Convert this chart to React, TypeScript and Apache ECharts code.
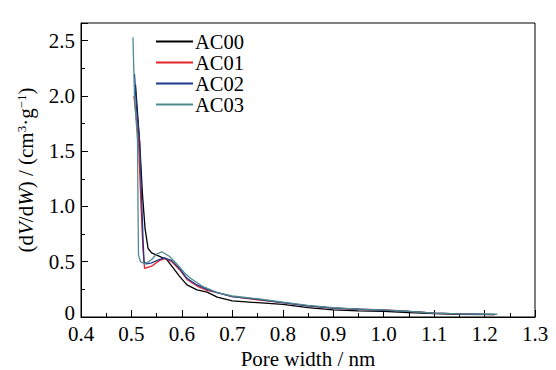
import React, { useEffect, useRef } from "react";
import * as echarts from "echarts";

const seriesNames = ["AC00", "AC01", "AC02", "AC03"];
const seriesColors = ["#000000", "#e3222a", "#1d3a8e", "#4d8b8f"];

const ac00: [number, number][] = [
  [0.508, 2.1], [0.516, 1.6], [0.522, 1.1], [0.527, 0.8], [0.533, 0.62], [0.54, 0.58],
  [0.55, 0.56], [0.57, 0.52], [0.58, 0.46], [0.595, 0.37], [0.61, 0.29], [0.63, 0.245],
  [0.65, 0.225], [0.67, 0.18], [0.7, 0.145], [0.75, 0.13], [0.8, 0.115], [0.85, 0.085],
  [0.9, 0.065], [0.95, 0.055], [1.0, 0.05], [1.05, 0.04], [1.1, 0.03], [1.15, 0.025], [1.22, 0.022],
];
const ac01: [number, number][] = [
  [0.505, 2.0], [0.514, 1.6], [0.519, 1.0], [0.523, 0.6], [0.526, 0.44], [0.54, 0.46],
  [0.555, 0.51], [0.567, 0.53], [0.58, 0.5], [0.595, 0.43], [0.61, 0.34], [0.63, 0.28],
  [0.65, 0.24], [0.67, 0.22], [0.7, 0.185], [0.75, 0.155], [0.8, 0.13], [0.85, 0.1],
  [0.9, 0.08], [0.95, 0.07], [1.0, 0.065], [1.02, 0.06], [1.05, 0.05], [1.1, 0.035],
  [1.15, 0.028], [1.22, 0.022],
];
const ac02: [number, number][] = [
  [0.506, 2.2], [0.51, 1.9], [0.516, 1.6], [0.52, 1.1], [0.523, 0.7], [0.525, 0.5],
  [0.53, 0.48], [0.54, 0.49], [0.555, 0.52], [0.565, 0.535], [0.58, 0.51], [0.595, 0.44],
  [0.61, 0.35], [0.63, 0.29], [0.65, 0.25], [0.67, 0.22], [0.7, 0.185], [0.75, 0.16],
  [0.8, 0.13], [0.85, 0.1], [0.9, 0.08], [0.95, 0.07], [1.0, 0.06], [1.05, 0.05],
  [1.1, 0.035], [1.15, 0.028], [1.22, 0.023],
];
const ac03: [number, number][] = [
  [0.503, 2.53], [0.506, 2.0], [0.512, 1.6], [0.513, 1.0], [0.514, 0.56], [0.518, 0.5],
  [0.527, 0.48], [0.54, 0.52], [0.55, 0.57], [0.56, 0.59], [0.575, 0.55], [0.59, 0.48],
  [0.605, 0.4], [0.617, 0.35], [0.64, 0.28], [0.67, 0.22], [0.7, 0.19], [0.75, 0.165],
  [0.8, 0.135], [0.85, 0.105], [0.9, 0.085], [0.95, 0.072], [1.0, 0.065], [1.05, 0.05],
  [1.1, 0.035], [1.15, 0.028], [1.225, 0.025],
];
const seriesData = [ac00, ac01, ac02, ac03];

const xMin = 0.4;
const xMax = 1.3;
const xStep = 0.1;
const yMin = 0;
const yMax = 2.66;
const yStep = 0.5;

const FONT = "Liberation Serif";

export default function App() {
  const ref = useRef<HTMLDivElement>(null);
  useEffect(() => {
    if (!ref.current) return;
    const chart = echarts.init(ref.current, undefined, { renderer: "svg" });
    chart.setOption({
      animation: false,
      backgroundColor: "#ffffff",
      textStyle: { fontFamily: FONT },
      grid: {
        left: 81,
        right: 21,
        top: 23,
        bottom: 53,
        outerBoundsMode: "none",
        containLabel: false,
        show: true,
        borderColor: "#000",
        borderWidth: 1,
        backgroundColor: "transparent",
      },
      legend: {
        left: 156,
        top: 31,
        orient: "vertical",
        padding: 0,
        itemGap: 0,
        itemWidth: 37,
        itemHeight: 2,
        icon: "rect",
        data: seriesNames,
        textStyle: {
          fontFamily: FONT,
          fontSize: 20.5,
          lineHeight: 20.4,
          color: "#000",
          padding: [0, 0, 0, -3],
        },
      },
      xAxis: {
        type: "value",
        min: xMin,
        max: xMax,
        interval: xStep,
        name: "Pore width / nm",
        nameLocation: "middle",
        nameGap: 29,
        nameTextStyle: { fontFamily: FONT, fontSize: 21, color: "#000" },
        axisLine: { lineStyle: { color: "#000", width: 1 } },
        axisTick: { inside: true, length: 7, lineStyle: { color: "#000" } },
        minorTick: { show: true, splitNumber: 2, length: 4, lineStyle: { color: "#000" } },
        splitLine: { show: false },
        axisLabel: {
          fontFamily: FONT,
          fontSize: 21,
          color: "#000",
          margin: 6,
          formatter: (v: number) => v.toFixed(1),
        },
      },
      yAxis: {
        type: "value",
        min: yMin,
        max: yMax,
        interval: yStep,
        name: "(d{i|V}/d{i|W}) / (cm{sup|3}·g{sup|−1})",
        nameLocation: "middle",
        nameGap: 44,
        nameRotate: 90,
        nameTextStyle: {
          fontFamily: FONT,
          fontSize: 21,
          color: "#000",
          rich: {
            i: { fontFamily: FONT, fontSize: 21, fontStyle: "italic", color: "#000" },
            sup: {
              fontFamily: FONT,
              fontSize: 13,
              color: "#000",
              verticalAlign: "bottom",
              padding: [0, 0, 9, 0],
            },
          },
        },
        axisLine: { lineStyle: { color: "#000", width: 1 } },
        axisTick: { inside: true, length: 7, lineStyle: { color: "#000" } },
        minorTick: { show: true, splitNumber: 2, length: 4, lineStyle: { color: "#000" } },
        splitLine: { show: false },
        axisLabel: {
          fontFamily: FONT,
          fontSize: 21,
          color: "#000",
          margin: 6,
          showMaxLabel: false,
          formatter: (v: number) => (v === 0 ? "{z|0}" : v.toFixed(1)),
          rich: {
            z: { fontFamily: FONT, fontSize: 21, color: "#000", padding: [0, 0, 8, 0] },
          },
        },
      },
      series: seriesNames.map((name, i) => ({
        name,
        type: "line",
        data: seriesData[i],
        showSymbol: false,
        symbol: "none",
        smooth: false,
        lineStyle: { color: seriesColors[i], width: 1.3 },
        itemStyle: { color: seriesColors[i] },
        z: 2 + i,
      })),
    });
    return () => chart.dispose();
  }, []);
  return <div ref={ref} style={{ width: 556, height: 370, position: "absolute", left: 0, top: 0 }} />;
}
